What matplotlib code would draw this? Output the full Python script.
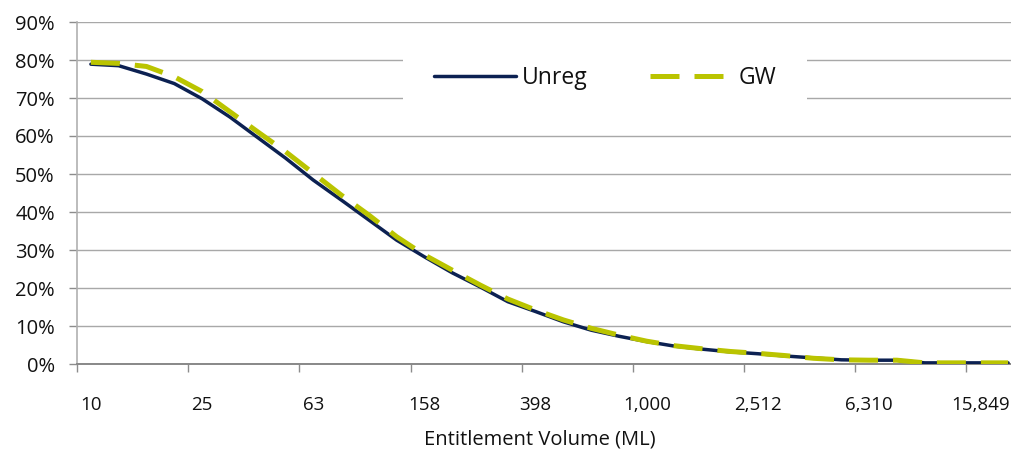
import matplotlib
matplotlib.use("Agg")
import matplotlib.pyplot as plt
from matplotlib.ticker import FixedLocator, FixedFormatter

plt.rcParams['font.family'] = ['Open Sans', 'DejaVu Sans']

# Share of entitlements exceeding each volume class (%), one value per class
unreg = [78.9, 78.5, 76.3, 73.8, 69.8, 65.0, 59.6, 54.2, 48.4, 43.2,
         37.9, 32.6, 28.2, 24.0, 20.3, 16.4, 13.8, 11.1, 8.9, 7.3,
         5.9, 4.7, 3.9, 3.2, 2.7, 2.1, 1.6, 1.1, 1.0, 1.0,
         0.3, 0.3, 0.3, 0.3]
gw = [79.4, 79.1, 78.3, 75.6, 71.7, 66.4, 61.1, 55.9, 50.2, 44.5,
      39.2, 33.5, 28.7, 24.7, 20.8, 17.1, 14.2, 11.6, 9.4, 7.6,
      6.0, 4.8, 4.0, 3.3, 2.8, 2.2, 1.5, 1.1, 1.0, 1.0,
      0.3, 0.3, 0.3, 0.3]
tick_labels = ["10", "25", "63", "158", "398", "1,000", "2,512", "6,310", "15,849"]
label_every = 4
y_ticks = [0, 10, 20, 30, 40, 50, 60, 70, 80, 90]

W, H = 1012, 457
fig = plt.figure(figsize=(W / 100, H / 100), dpi=100)
x0, x1 = 77, 1022
y0, y1 = 364, 22
ax = fig.add_axes([x0 / W, 1 - y0 / H, (x1 - x0) / W, (y0 - y1) / H])

cats = list(range(len(unreg)))
navy = '#0c2152'
lime = '#bac400'
grid_c = '#a8a8a8'
axis_c = '#8c8c8c'

ax.plot(cats, unreg, color=navy, lw=2.5, solid_joinstyle='round',
        solid_capstyle='round', label='Unreg', zorder=3)
ax.plot(cats, gw, color=lime, lw=3.6, dashes=(5.8, 3.0),
        dash_capstyle='butt', label='GW', zorder=4)

ax.set_xlim(-0.5, len(cats) - 0.5)
ax.set_ylim(0, 90)

# y axis
ax.set_yticks(y_ticks)
ax.set_yticklabels([f"{v}%" for v in y_ticks])
ax.yaxis.grid(True, color=grid_c, lw=1.0)
ax.set_axisbelow(True)
ax.tick_params(axis='y', length=6, width=1, color=axis_c, pad=10,
               labelsize=14.5, labelcolor='#111111')

# x axis: tick marks between classes, labels on class centres
n_lab = len(tick_labels)
ax.xaxis.set_major_locator(FixedLocator([i * label_every - 0.5 for i in range(n_lab)]))
ax.xaxis.set_major_formatter(FixedFormatter([''] * n_lab))
ax.xaxis.set_minor_locator(FixedLocator([i * label_every for i in range(n_lab)]))
ax.xaxis.set_minor_formatter(FixedFormatter(tick_labels))
ax.tick_params(axis='x', which='major', length=6, width=1, color=axis_c)
ax.tick_params(axis='x', which='minor', length=0, pad=23,
               labelsize=13.5, labelcolor='#111111')

for s in ('top', 'right'):
    ax.spines[s].set_visible(False)
ax.spines['left'].set_color('#b0b0b0')
ax.spines['left'].set_linewidth(1.2)
ax.spines['bottom'].set_color('#888888')
ax.spines['bottom'].set_linewidth(1.4)

fig.text(540 / W, 1 - 440 / H, 'Entitlement Volume (ML)', ha='center',
         va='center', fontsize=14.5, color='#111111')

leg = ax.legend(ncol=2, loc='center',
                bbox_to_anchor=((605 - x0) / (x1 - x0), (y0 - 78) / (y0 - y1)),
                frameon=True, fancybox=False, framealpha=1, facecolor='white',
                edgecolor='none', fontsize=16.5, handlelength=3.6,
                handletextpad=0.26, columnspacing=2.7, borderpad=1.35,
                borderaxespad=0)
for t in leg.get_texts():
    t.set_color('#111111')

fig.savefig('out.png', dpi=100)
